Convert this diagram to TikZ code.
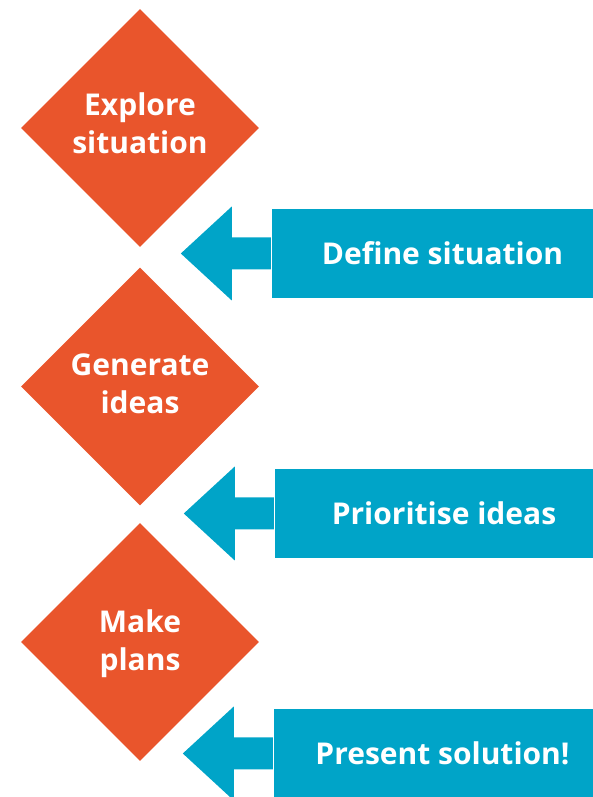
\documentclass[tikz,border=0pt]{standalone}
\usepackage{fontspec}
\setmainfont{Open Sans}
\usetikzlibrary{calc,shapes.geometric}
\definecolor{stepred}{HTML}{E9552C}
\definecolor{stepblue}{HTML}{00A4C8}
% block arrow pointing left out of a panel
\def\pointer(#1){\fill[stepblue] ($(#1.west)+(-1,16)$) -- ++(-39,0) -- ++(0,31) -- ++(-51,-47) -- ++(51,-47) -- ++(0,31) -- ++(39,0) -- cycle;}

\tikzset{
	stage/.style={diamond, shape aspect=1, fill=stepred, inner sep=0pt, minimum width=238pt, minimum height=238pt},
	panel/.style={rectangle, fill=stepblue, inner sep=0pt, minimum height=89pt},
	steptext/.style={text=white, inner sep=0pt, align=center, text depth=0pt, font=\bfseries\fontsize{30}{38}\selectfont}
}

\begin{document}
\begin{tikzpicture}[x=1pt, y=1pt]
			%%%%% START %%%%%
			\useasboundingbox (0, 0) rectangle (593, 797);
			
			\node[stage] (explore) at (140, 669) {};
			\node[stage] (generate) at (140, 410.5) {};
			\node[stage] (plans) at (140, 155) {};
			
			\node[steptext] (exploretext) at ([yshift=5pt]explore.center) {Explore\\situation};
			\node[steptext] (generatetext) at ([yshift=3pt]generate.center) {Generate\\ideas};
			\node[steptext] (planstext) at ([yshift=1.5pt]plans.center) {Make\\plans};
			
			\node[panel, minimum width=321pt] (define) at (432.5, 543.5) {};
			\node[panel, minimum width=318pt] (prioritise) at (434, 283.5) {};
			\node[panel, minimum width=319pt] (present) at (433.5, 43.5) {};
			
			\node[steptext] (definetext) at ([xshift=10pt]define.center) {Define situation};
			\node[steptext] (prioritisetext) at ([xshift=10pt]prioritise.center) {Prioritise ideas};
			\node[steptext] (presenttext) at ([xshift=9pt]present.center) {Present solution!};
			
			\pointer(define)
			\pointer(prioritise)
			\pointer(present)
			
			%%%%% END %%%%%
\end{tikzpicture}
\end{document}
